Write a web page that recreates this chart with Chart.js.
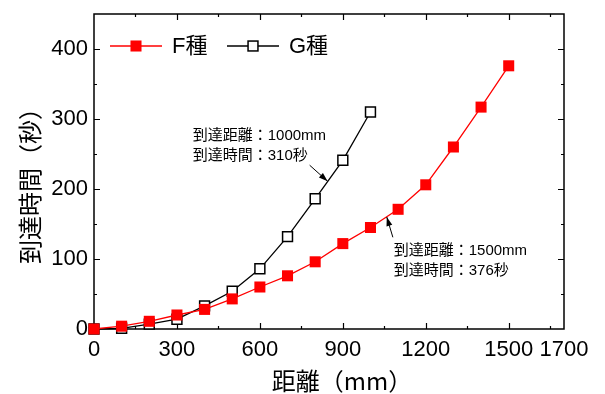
<!DOCTYPE html>
<html>
<head>
<meta charset="utf-8">
<script src="https://cdn.jsdelivr.net/npm/chart.js@4.4.0/dist/chart.umd.min.js"></script>
<style>
  html, body { margin: 0; padding: 0; background: #fff; }
  #wrap { width: 605px; height: 394px; }
</style>
</head>
<body>
<div id="wrap"><canvas id="myChart"></canvas></div>
<script>
// data
var fDistances = [0, 100, 200, 300, 400, 500, 600, 700, 800, 900, 1000, 1100, 1200, 1300, 1400, 1500];
var fTimes = [0, 4, 11, 20, 28, 43, 60, 76, 96, 122, 145, 171, 206, 260, 317, 376];
var gDistances = [0, 100, 200, 300, 400, 500, 600, 700, 800, 900, 1000];
var gTimes = [0, 1, 7, 14, 33, 54, 86, 132, 186, 241, 310];
var xTickValues = [0, 300, 600, 900, 1200, 1500, 1700];
var yTickValues = [0, 100, 200, 300, 400];

var seriesNames = ['F種', 'G種'];
var xTitle = '距離（mm）';
var yTitle = '到達時間（秒）';
var noteTexts = [
  ['到達距離：1000mm', '到達時間：310秒'],
  ['到達距離：1500mm', '到達時間：376秒']
];

var latinFont = "'Liberation Sans', 'Noto Sans CJK JP', sans-serif";
var cjkFont = "'Noto Sans CJK JP', sans-serif";

function toPoints(xs, ys) {
  var pts = [];
  for (var i = 0; i < xs.length; i++) pts.push({ x: xs[i], y: ys[i] });
  return pts;
}

var framePlugin = {
  id: 'frame',
  // box with inward ticks on all four sides
  beforeDatasetsDraw: function(chart) {
    var ctx = chart.ctx, a = chart.chartArea;
    var xs = chart.scales.x, ys = chart.scales.y;
    ctx.save();
    ctx.strokeStyle = '#000';
    ctx.lineWidth = 1.5;
    ctx.strokeRect(a.left, a.top, a.right - a.left, a.bottom - a.top);
    ctx.lineWidth = 1.2;
    ctx.beginPath();
    for (var v = 150; v < 1700; v += 150) {
      var px = Math.round(xs.getPixelForValue(v)) + 0.5;
      var len = v % 300 === 0 ? 6 : 3;
      ctx.moveTo(px, a.bottom); ctx.lineTo(px, a.bottom - len);
      ctx.moveTo(px, a.top); ctx.lineTo(px, a.top + len);
    }
    for (var w = 50; w < 450; w += 50) {
      var py = Math.round(ys.getPixelForValue(w)) + 0.5;
      var l2 = w % 100 === 0 ? 6 : 3;
      ctx.moveTo(a.left, py); ctx.lineTo(a.left + l2, py);
      ctx.moveTo(a.right, py); ctx.lineTo(a.right - l2, py);
    }
    ctx.stroke();
    ctx.restore();
  },
  // axis titles, legend, notes with arrows
  afterDatasetsDraw: function(chart) {
    var ctx = chart.ctx, a = chart.chartArea;
    var xs = chart.scales.x, ys = chart.scales.y;
    function X(v) { return xs.getPixelForValue(v); }
    function Y(v) { return ys.getPixelForValue(v); }

    ctx.save();
    ctx.fillStyle = '#000';
    ctx.textBaseline = 'middle';

    // axis titles
    ctx.font = '24px ' + cjkFont;
    ctx.textAlign = 'center';
    ctx.fillText(xTitle, (a.left + a.right) / 2 + 13, 381);
    ctx.save();
    ctx.translate(30, 180);
    ctx.rotate(-Math.PI / 2);
    ctx.fillText(yTitle, 0, 0);
    ctx.restore();

    // legend
    ctx.textAlign = 'left';
    ctx.font = '22px ' + latinFont;
    var legX = [110, 227];
    var legY = 46;
    chart.data.datasets.forEach(function(ds, i) {
      var x0 = legX[i];
      ctx.strokeStyle = ds.borderColor;
      ctx.lineWidth = 1.3;
      ctx.beginPath(); ctx.moveTo(x0, legY); ctx.lineTo(x0 + 52, legY); ctx.stroke();
      var s = ds.pointRadius * Math.SQRT2;
      ctx.fillStyle = ds.pointBackgroundColor;
      ctx.fillRect(x0 + 26 - s / 2, legY - s / 2, s, s);
      if (ds.pointBorderWidth) {
        ctx.lineWidth = ds.pointBorderWidth;
        ctx.strokeStyle = ds.pointBorderColor;
        ctx.strokeRect(x0 + 26 - s / 2, legY - s / 2, s, s);
      }
      ctx.fillStyle = '#000';
      ctx.fillText(ds.label, x0 + 62, legY + 1);
    });

    // notes
    ctx.font = '15px ' + latinFont;
    ctx.fillText(noteTexts[0][0], X(357), Y(276));
    ctx.fillText(noteTexts[0][1], X(357), Y(276) + 20);
    ctx.fillText(noteTexts[1][0], X(1084), Y(112));
    ctx.fillText(noteTexts[1][1], X(1084), Y(112) + 20);

    function arrow(x1, y1, x2, y2) {
      ctx.strokeStyle = '#000';
      ctx.lineWidth = 1;
      ctx.beginPath(); ctx.moveTo(x1, y1); ctx.lineTo(x2, y2); ctx.stroke();
      var ang = Math.atan2(y2 - y1, x2 - x1);
      ctx.beginPath();
      ctx.moveTo(x2, y2);
      ctx.lineTo(x2 - 9 * Math.cos(ang) + 3 * Math.sin(ang), y2 - 9 * Math.sin(ang) - 3 * Math.cos(ang));
      ctx.lineTo(x2 - 9 * Math.cos(ang) - 3 * Math.sin(ang), y2 - 9 * Math.sin(ang) + 3 * Math.cos(ang));
      ctx.closePath();
      ctx.fill();
    }
    arrow(X(780), Y(234), X(845), Y(211));
    arrow(X(1081), Y(131), X(1059), Y(160));
    ctx.restore();
  }
};

var ctx = document.getElementById('myChart');
var myChart = new Chart(ctx, {
  type: 'line',
  data: {
    datasets: [{
      label: seriesNames[0],
      data: toPoints(fDistances, fTimes),
      borderColor: '#ff0000',
      borderWidth: 1.3,
      pointStyle: 'rect',
      pointRadius: 7.8,
      pointBorderWidth: 0,
      pointBorderColor: '#ff0000',
      pointBackgroundColor: '#ff0000',
      clip: false
    }, {
      label: seriesNames[1],
      data: toPoints(gDistances, gTimes),
      borderColor: '#000',
      borderWidth: 1.3,
      pointStyle: 'rect',
      pointRadius: 7,
      pointBorderWidth: 1.5,
      pointBorderColor: '#000',
      pointBackgroundColor: '#fff',
      clip: false
    }]
  },
  options: {
    responsive: true,
    maintainAspectRatio: false,
    animation: false,
    layout: { padding: { top: 14, right: 41, left: 0, bottom: 0 } },
    plugins: {
      tooltip: { enabled: false },
      legend: { display: false }
    },
    scales: {
      x: {
        type: 'linear',
        min: 0,
        max: 1700,
        grid: { display: false, drawTicks: false },
        border: { display: false },
        afterBuildTicks: function(scale) {
          scale.ticks = xTickValues.map(function(v) { return { value: v }; });
        },
        afterFit: function(scale) {
          scale.height = 65;
          scale.paddingLeft = 0;
          scale.paddingRight = 0;
        },
        ticks: {
          autoSkip: false,
          maxRotation: 0,
          padding: 8,
          color: '#000',
          font: { size: 22, family: latinFont },
          callback: function(v) { return String(v); }
        }
      },
      y: {
        type: 'linear',
        min: 0,
        max: 450,
        grid: { display: false, drawTicks: false },
        border: { display: false },
        afterBuildTicks: function(scale) {
          scale.ticks = yTickValues.map(function(v) { return { value: v }; });
        },
        afterFit: function(scale) {
          scale.width = 94;
          scale.paddingTop = 0;
          scale.paddingBottom = 0;
        },
        ticks: {
          padding: 6,
          color: '#000',
          font: { size: 22, family: latinFont },
          callback: function(v) { return String(v); }
        }
      }
    }
  },
  plugins: [framePlugin]
});
</script>
</body>
</html>
